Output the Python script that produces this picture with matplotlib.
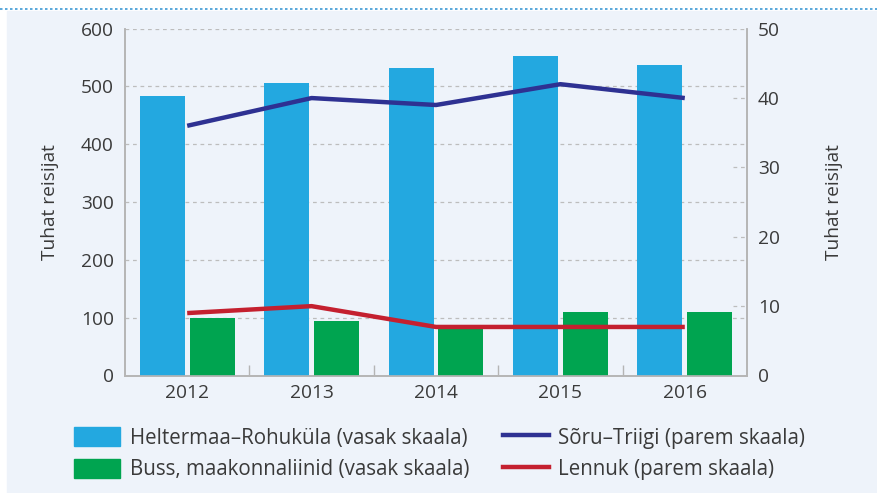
import numpy as np
import matplotlib.pyplot as plt
import matplotlib.patches as mpatches
import matplotlib.lines as mlines
import matplotlib.transforms as mtransforms

plt.rcParams['font.family'] = ['Open Sans', 'DejaVu Sans']

# andmed
years = ['2012', '2013', '2014', '2015', '2016']
heltermaa = [484, 506, 532, 553, 537]      # vasak skaala
buss = [99, 94, 84, 110, 110]              # vasak skaala
soru = [36, 40, 39, 42, 40]                # parem skaala
lennuk = [9, 10, 7, 7, 7]                  # parem skaala

left_ticks = [0, 100, 200, 300, 400, 500, 600]
right_ticks = [0, 10, 20, 30, 40, 50]

c_blue = '#23A8E0'
c_green = '#00A450'
c_navy = '#2E3192'
c_red = '#C4202F'
c_text = '#3A3A3A'
c_grid = '#BDBDBD'
c_spine = '#B5B5B5'
bg = '#EEF3FA'
fs = 13.8
fs_leg = 14.8

W, H = 877, 493
fig = plt.figure(figsize=(W / 100, H / 100), dpi=100)
fig.patch.set_facecolor('white')

# taust ja punktiirjoon ylal
fig.patches.append(mpatches.Rectangle((7 / W, 0), 1, (H - 11) / H,
                                      transform=fig.transFigure, color=bg, zorder=-10))
fig.lines.append(mlines.Line2D([0, 1], [(H - 9) / H] * 2, transform=fig.transFigure,
                               color='#3D9AD6', lw=1.2, ls=(0, (1.5, 1.5))))

ax1 = fig.add_axes([125 / W, (H - 375.5) / H, 622 / W, 346.8 / H])
ax1.patch.set_alpha(0)
ax2 = ax1.twinx()

x = np.arange(len(years))
bw = 0.362
ax1.bar(x - 0.2, heltermaa, bw, color=c_blue, zorder=3)
ax1.bar(x + 0.2, buss, bw, color=c_green, zorder=3)

ax1.set_xlim(-0.5, len(years) - 0.5)
ax1.set_ylim(0, 600)
ax1.set_yticks(left_ticks)
ax1.set_xticks(x)
ax1.set_xticklabels(years)
ax1.set_xticks(x[:-1] + 0.5, minor=True)
ax1.tick_params(axis='x', which='major', length=0, pad=6, labelsize=fs, labelcolor=c_text)
ax1.tick_params(axis='x', which='minor', direction='in', length=8, color=c_spine, width=1)
ax1.tick_params(axis='y', length=0, pad=8, labelsize=fs, labelcolor=c_text)
ax1.grid(axis='y', color=c_grid, ls=(0, (3, 3)), lw=0.9, zorder=0)
ax1.set_axisbelow(True)
ax1.set_ylabel('Tuhat reisijat', fontsize=fs, color=c_text, labelpad=16)

ax2.plot(x, soru, color=c_navy, lw=3.2, zorder=5, solid_capstyle='butt')
ax2.plot(x, lennuk, color=c_red, lw=3.2, zorder=5, solid_capstyle='butt')
ax2.set_ylim(0, 50)
ax2.set_yticks(right_ticks)
ax2.tick_params(axis='y', length=0, pad=8, labelsize=fs, labelcolor=c_text)
ax2.set_ylabel('Tuhat reisijat', fontsize=fs, color=c_text, labelpad=32, rotation=90)
ax2.yaxis.set_label_position('right')
# lyhikesed punktiirtikid paremal teljel
trans = mtransforms.blended_transform_factory(ax2.transAxes, ax2.transData)
for t in right_ticks[1:-1]:
    ax2.plot([0.978, 1.0], [t, t], transform=trans, color=c_grid,
             ls=(0, (3, 3)), lw=0.9, zorder=1, clip_on=False)

for ax in (ax1, ax2):
    ax.spines['top'].set_visible(False)
    for s in ('left', 'right', 'bottom'):
        ax.spines[s].set_color(c_spine)
        ax.spines[s].set_linewidth(1.2)

# legend
h1 = [mpatches.Patch(color=c_blue), mpatches.Patch(color=c_green)]
l1 = ['Heltermaa–Rohuküla (vasak skaala)', 'Buss, maakonnaliinid (vasak skaala)']
h2 = [mlines.Line2D([], [], color=c_navy, lw=3.2), mlines.Line2D([], [], color=c_red, lw=3.2)]
l2 = ['Sõru–Triigi (parem skaala)', 'Lennuk (parem skaala)']
common = dict(loc='upper left', frameon=False, fontsize=fs_leg, borderpad=0, borderaxespad=0,
              handlelength=2.25, handleheight=1.05, handletextpad=0.45,
              labelspacing=0.5, labelcolor=c_text)
fig.legend(h1, l1, bbox_to_anchor=(74 / W, (H - 427) / H), **common)
fig.legend(h2, l2, bbox_to_anchor=(503 / W, (H - 427) / H), **common)

fig.savefig('out.png', dpi=100, facecolor=fig.get_facecolor())
